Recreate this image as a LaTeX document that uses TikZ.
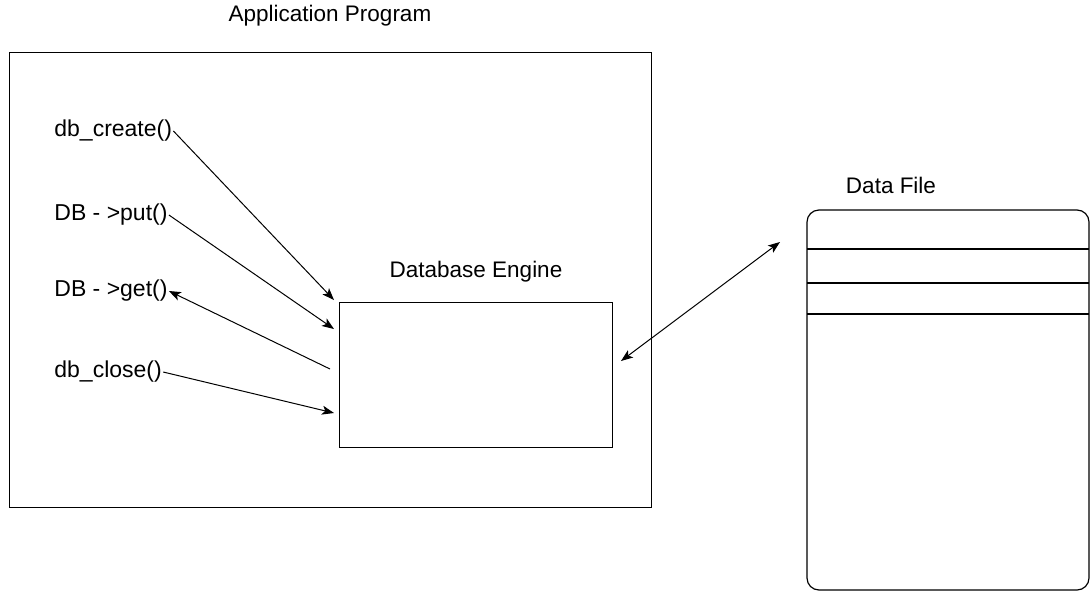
\documentclass[tikz,border=0pt]{standalone}
\usepackage{fontspec}
\setmainfont{Liberation Sans}
\usetikzlibrary{arrows.meta}
\usetikzlibrary{positioning}

\begin{document}
\begin{tikzpicture}[x=1pt,y=-1pt,>={Stealth[length=12pt,width=9pt,inset=3pt]},thick,
    box node/.style={draw,line width=1.2pt,inner sep=0pt,anchor=north west},
    label node/.style={font=\fontsize{22.5}{26}\selectfont,inner sep=1pt},
    call node/.style={font=\fontsize{23}{26}\selectfont,inner sep=1pt,anchor=west}]
   \useasboundingbox (0,0) rectangle (1091,592);
   \begin{scope}
     % application program
     \node[label node] (apptitle) at (330,16) {Application Program};
     \node[box node,minimum width=642pt,minimum height=455pt] (app) at (9,52) {};
     \node[call node] (create) at (53,131) {db\_create()};
     \node[call node] (put) at (53,215) {DB - {>}put()};
     \node[call node] (get) at (53,291) {DB - {>}get()};
     \node[call node] (close) at (53,372) {db\_close()};
     % database engine
     \node[label node] (enginetitle) at (476,272) {Database Engine};
     \node[box node,minimum width=273pt,minimum height=145pt] (engine) at (339,302) {};
     \coordinate (e1) at (334,300);
     \coordinate (e2) at (334,329);
     \coordinate (e3) at (330,369);
     \coordinate (e4) at (334,413);
     \coordinate (e5) at (621,361);
     % data file
     \node[label node] (filetitle) at (891,185) {Data File};
     \draw[line width=1.2pt,rounded corners=12pt] (807,210) rectangle (1089,590);
     \coordinate (f0) at (780,242);
     \coordinate (r1l) at (807,249); \coordinate (r1r) at (1089,249);
     \coordinate (r2l) at (807,283); \coordinate (r2r) at (1089,283);
     \coordinate (r3l) at (807,314); \coordinate (r3r) at (1089,314);
      \path[-,line width=1.2pt] (r1l) edge (r1r);
      \path[-,line width=1.2pt] (r2l) edge (r2r);
      \path[-,line width=1.2pt] (r3l) edge (r3r);
      \path[->,line width=1pt] (create.east) edge (e1);
      \path[->,line width=1pt] (put.east) edge (e2);
      \path[->,line width=1pt] (e3) edge (get.east);
      \path[->,line width=1pt] (close.east) edge (e4);
      \path[<->,line width=1pt] (e5) edge (f0);
    \end{scope}
  \end{tikzpicture}
\end{document}
